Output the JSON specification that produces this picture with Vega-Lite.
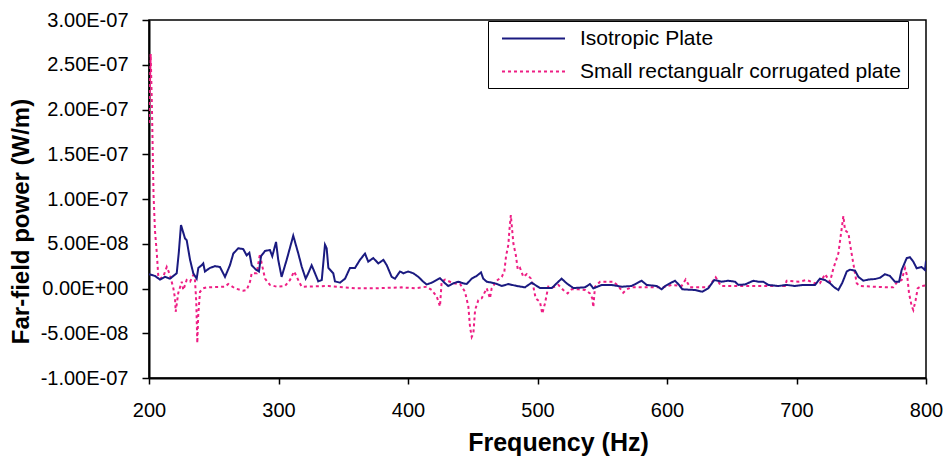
{
  "$schema": "https://vega.github.io/schema/vega-lite/v6.json",
  "autosize": {"type": "none"},
  "padding": {"left": 149, "top": 20, "right": 21, "bottom": 78},
  "width": 777,
  "height": 358,
  "background": "white",
  "config": {
    "font": "Liberation Sans",
    "view": {"stroke": "#000", "strokeWidth": 1.5},
    "axis": {"grid": false, "domainColor": "#000", "domainWidth": 2, "tickColor": "#000", "tickWidth": 1.5, "labelColor": "#000", "titleColor": "#000", "labelFont": "Liberation Sans", "titleFont": "Liberation Sans"}
  },
  "datasets": {
    "iso": [
      {"freq":200,"power":1.6e-8},{"freq":204.6,"power":1.4e-8},{"freq":208.5,"power":1.0e-8},{"freq":212.4,"power":1.3e-8},{"freq":216.2,"power":1.1e-8},{"freq":221.4,"power":1.7e-8},{"freq":223,"power":4.0e-8},{"freq":224.7,"power":7.1e-8},{"freq":227.8,"power":5.6e-8},{"freq":229.1,"power":5.4e-8},{"freq":231.7,"power":3.2e-8},{"freq":234.2,"power":1.7e-8},{"freq":236.8,"power":1.1e-8},{"freq":238.1,"power":2.3e-8},{"freq":240.7,"power":2.6e-8},{"freq":241.9,"power":2.8e-8},{"freq":243.2,"power":1.9e-8},{"freq":247.1,"power":2.3e-8},{"freq":251,"power":2.5e-8},{"freq":254.8,"power":2.4e-8},{"freq":258.7,"power":1.3e-8},{"freq":262.5,"power":2.6e-8},{"freq":265.1,"power":3.9e-8},{"freq":268.9,"power":4.5e-8},{"freq":272.8,"power":4.4e-8},{"freq":275.4,"power":3.7e-8},{"freq":277.5,"power":4.0e-8},{"freq":279.3,"power":2.6e-8},{"freq":282.6,"power":2.1e-8},{"freq":284.9,"power":1.9e-8},{"freq":286.5,"power":3.6e-8},{"freq":289.6,"power":4.2e-8},{"freq":293.4,"power":4.3e-8},{"freq":295.2,"power":3.6e-8},{"freq":298.1,"power":5.2e-8},{"freq":299.8,"power":3.2e-8},{"freq":302.4,"power":1.3e-8},{"freq":306.3,"power":3.2e-8},{"freq":311.4,"power":5.9e-8},{"freq":315.3,"power":3.9e-8},{"freq":318,"power":2.4e-8},{"freq":321,"power":1.1e-8},{"freq":323,"power":1.7e-8},{"freq":325.6,"power":2.6e-8},{"freq":328.2,"power":1.7e-8},{"freq":330.7,"power":0.8e-8},{"freq":333.4,"power":0.95e-8},{"freq":335.9,"power":4.9e-8},{"freq":337.2,"power":4.5e-8},{"freq":338.5,"power":2.3e-8},{"freq":342.3,"power":1.7e-8},{"freq":343.6,"power":0.8e-8},{"freq":347.5,"power":0.65e-8},{"freq":351.4,"power":1.1e-8},{"freq":355.2,"power":2.3e-8},{"freq":359.1,"power":2.3e-8},{"freq":362.9,"power":3.2e-8},{"freq":366.8,"power":3.9e-8},{"freq":369.3,"power":3.0e-8},{"freq":373.2,"power":3.4e-8},{"freq":377.1,"power":2.8e-8},{"freq":381,"power":3.2e-8},{"freq":383.6,"power":2.6e-8},{"freq":387.4,"power":1.3e-8},{"freq":390,"power":1.1e-8},{"freq":393.8,"power":1.9e-8},{"freq":396.4,"power":1.7e-8},{"freq":400.2,"power":1.9e-8},{"freq":404.1,"power":1.7e-8},{"freq":408,"power":1.3e-8},{"freq":411.8,"power":0.76e-8},{"freq":414.4,"power":0.45e-8},{"freq":418.3,"power":0.65e-8},{"freq":424.7,"power":1.15e-8},{"freq":428.6,"power":0.58e-8},{"freq":431.1,"power":0.28e-8},{"freq":435,"power":0.58e-8},{"freq":438.9,"power":0.76e-8},{"freq":442.7,"power":0.58e-8},{"freq":445.3,"power":0.5e-8},{"freq":449.2,"power":1.1e-8},{"freq":453,"power":1.4e-8},{"freq":456.4,"power":1.8e-8},{"freq":458.1,"power":1.1e-8},{"freq":460.8,"power":0.76e-8},{"freq":467.2,"power":0.58e-8},{"freq":472.4,"power":0.28e-8},{"freq":477.5,"power":0.5e-8},{"freq":484,"power":0.28e-8},{"freq":490.3,"power":0.13e-8},{"freq":495.5,"power":0.65e-8},{"freq":501.9,"power":0.05e-8},{"freq":511,"power":0.05e-8},{"freq":518.6,"power":1.1e-8},{"freq":522.5,"power":0.58e-8},{"freq":527.7,"power":0.05e-8},{"freq":536.7,"power":0.13e-8},{"freq":540.5,"power":0.5e-8},{"freq":543.1,"power":0.02e-8},{"freq":549.6,"power":0.4e-8},{"freq":557.3,"power":0.4e-8},{"freq":565,"power":0.2e-8},{"freq":572.7,"power":0.28e-8},{"freq":576.6,"power":0.58e-8},{"freq":580.4,"power":0.87e-8},{"freq":584.3,"power":0.4e-8},{"freq":592,"power":0.28e-8},{"freq":595.9,"power":-0.09e-8},{"freq":598.5,"power":0.28e-8},{"freq":602.3,"power":0.58e-8},{"freq":606.2,"power":0.87e-8},{"freq":609.3,"power":0.4e-8},{"freq":611.8,"power":-0.09e-8},{"freq":621.6,"power":-0.17e-8},{"freq":627.3,"power":-0.36e-8},{"freq":631.9,"power":0.02e-8},{"freq":636.5,"power":0.95e-8},{"freq":642.2,"power":0.76e-8},{"freq":647.4,"power":0.87e-8},{"freq":652.5,"power":0.76e-8},{"freq":655.1,"power":0.4e-8},{"freq":660.2,"power":0.45e-8},{"freq":666.7,"power":0.87e-8},{"freq":670.5,"power":0.76e-8},{"freq":674.4,"power":0.76e-8},{"freq":678.2,"power":0.4e-8},{"freq":686,"power":0.28e-8},{"freq":692.4,"power":0.4e-8},{"freq":698.8,"power":0.28e-8},{"freq":705.2,"power":0.4e-8},{"freq":714.3,"power":0.4e-8},{"freq":718.1,"power":1.1e-8},{"freq":722,"power":0.95e-8},{"freq":725.9,"power":0.58e-8},{"freq":729.2,"power":0.13e-8},{"freq":732.3,"power":-0.17e-8},{"freq":735.4,"power":0.65e-8},{"freq":738.8,"power":1.9e-8},{"freq":741.3,"power":2.1e-8},{"freq":745.2,"power":2.0e-8},{"freq":747.8,"power":1.3e-8},{"freq":751.6,"power":0.87e-8},{"freq":755.5,"power":1.0e-8},{"freq":760.7,"power":1.06e-8},{"freq":764.5,"power":1.2e-8},{"freq":768.3,"power":1.6e-8},{"freq":772.2,"power":1.4e-8},{"freq":776,"power":0.76e-8},{"freq":779.2,"power":0.76e-8},{"freq":781.2,"power":2.07e-8},{"freq":785.1,"power":3.4e-8},{"freq":787.6,"power":3.5e-8},{"freq":790.2,"power":3.0e-8},{"freq":792.8,"power":2.26e-8},{"freq":796.6,"power":2.4e-8},{"freq":799.2,"power":2.07e-8},{"freq":800,"power":3.1e-8}
    ],
    "cor": [
      {"freq":200,"power":18.5e-8},{"freq":201.3,"power":26.2e-8},{"freq":202.3,"power":20e-8},{"freq":203.5,"power":10.5e-8},{"freq":204.6,"power":6.5e-8},{"freq":206,"power":4e-8},{"freq":207.2,"power":1.3e-8},{"freq":208.5,"power":1.1e-8},{"freq":211,"power":1.3e-8},{"freq":213.7,"power":2.4e-8},{"freq":216.2,"power":1.5e-8},{"freq":218.8,"power":0.02e-8},{"freq":220.1,"power":-1.1e-8},{"freq":220.6,"power":-2.6e-8},{"freq":222.6,"power":-0.5e-8},{"freq":225.3,"power":0.76e-8},{"freq":226.5,"power":-0.17e-8},{"freq":229.1,"power":0.95e-8},{"freq":231.7,"power":0.76e-8},{"freq":234.2,"power":1.5e-8},{"freq":235.5,"power":0.95e-8},{"freq":236.5,"power":-1.5e-8},{"freq":237.3,"power":-6.1e-8},{"freq":238,"power":-3e-8},{"freq":239.4,"power":-0.36e-8},{"freq":241.9,"power":0.02e-8},{"freq":244.6,"power":0.13e-8},{"freq":258.7,"power":0.2e-8},{"freq":261.2,"power":0.5e-8},{"freq":266.4,"power":0.02e-8},{"freq":272.8,"power":-0.25e-8},{"freq":275.4,"power":-0.17e-8},{"freq":278,"power":0.76e-8},{"freq":279.3,"power":1.7e-8},{"freq":283.2,"power":1.7e-8},{"freq":285.7,"power":3.9e-8},{"freq":287,"power":2.8e-8},{"freq":289.6,"power":1.1e-8},{"freq":293.4,"power":0.4e-8},{"freq":298.6,"power":0.2e-8},{"freq":305,"power":0.28e-8},{"freq":308.9,"power":0.95e-8},{"freq":312,"power":1.9e-8},{"freq":314.1,"power":1.3e-8},{"freq":315.8,"power":0.76e-8},{"freq":317.9,"power":0.2e-8},{"freq":338.5,"power":0.28e-8},{"freq":359.1,"power":0.02e-8},{"freq":374.5,"power":0.02e-8},{"freq":395.1,"power":0.13e-8},{"freq":405.4,"power":0.02e-8},{"freq":414.4,"power":0.2e-8},{"freq":418.3,"power":-0.17e-8},{"freq":422.2,"power":-0.9e-8},{"freq":424.7,"power":-2.0e-8},{"freq":426,"power":0.76e-8},{"freq":428.6,"power":1.0e-8},{"freq":435,"power":0.58e-8},{"freq":440.2,"power":0.5e-8},{"freq":444,"power":-0.36e-8},{"freq":446.6,"power":-2.0e-8},{"freq":447.9,"power":-4.3e-8},{"freq":449.2,"power":-5.4e-8},{"freq":450.5,"power":-5.0e-8},{"freq":451.8,"power":-2.4e-8},{"freq":454.3,"power":-1.3e-8},{"freq":456.9,"power":-1.1e-8},{"freq":460.8,"power":0.02e-8},{"freq":463.3,"power":-1.1e-8},{"freq":464.6,"power":0.02e-8},{"freq":468.5,"power":0.87e-8},{"freq":472.4,"power":1.3e-8},{"freq":474.4,"power":1.9e-8},{"freq":475.7,"power":3.6e-8},{"freq":477.5,"power":4.9e-8},{"freq":478.3,"power":6.5e-8},{"freq":479.4,"power":8.2e-8},{"freq":480.2,"power":6.9e-8},{"freq":481.4,"power":5.0e-8},{"freq":483.3,"power":3.7e-8},{"freq":484.8,"power":2.1e-8},{"freq":486.5,"power":2.3e-8},{"freq":489.1,"power":1.3e-8},{"freq":491.7,"power":1.6e-8},{"freq":495,"power":1.1e-8},{"freq":496.8,"power":0.2e-8},{"freq":498.6,"power":-1.1e-8},{"freq":501.9,"power":-1.5e-8},{"freq":503.7,"power":-2.8e-8},{"freq":505.8,"power":-1.65e-8},{"freq":508.3,"power":0.2e-8},{"freq":512.2,"power":0.13e-8},{"freq":516.1,"power":0.4e-8},{"freq":519.9,"power":-0.17e-8},{"freq":523.3,"power":-0.54e-8},{"freq":526.4,"power":-0.09e-8},{"freq":531.5,"power":-0.09e-8},{"freq":536.7,"power":-0.17e-8},{"freq":540.5,"power":-0.54e-8},{"freq":542.3,"power":-1.1e-8},{"freq":543.1,"power":-2.1e-8},{"freq":544.4,"power":0.2e-8},{"freq":548.3,"power":0.76e-8},{"freq":553.4,"power":0.76e-8},{"freq":558.5,"power":0.76e-8},{"freq":562.4,"power":0.28e-8},{"freq":566.2,"power":-0.47e-8},{"freq":568.9,"power":-0.09e-8},{"freq":572.7,"power":0.13e-8},{"freq":590.7,"power":0.13e-8},{"freq":597.1,"power":0.13e-8},{"freq":603.6,"power":0.4e-8},{"freq":611.3,"power":0.28e-8},{"freq":614.4,"power":1.0e-8},{"freq":617.8,"power":0.13e-8},{"freq":631.9,"power":0.13e-8},{"freq":637.6,"power":1.25e-8},{"freq":641.7,"power":0.28e-8},{"freq":664.1,"power":0.28e-8},{"freq":691.1,"power":0.28e-8},{"freq":692.4,"power":0.87e-8},{"freq":701.4,"power":0.76e-8},{"freq":707.9,"power":0.95e-8},{"freq":714.3,"power":0.58e-8},{"freq":718.1,"power":0.58e-8},{"freq":722,"power":1.6e-8},{"freq":725.9,"power":0.76e-8},{"freq":728.5,"power":2.26e-8},{"freq":732.3,"power":3.9e-8},{"freq":736.2,"power":8.1e-8},{"freq":737.5,"power":6.5e-8},{"freq":740.1,"power":6.2e-8},{"freq":741.4,"power":4.9e-8},{"freq":743.4,"power":3.2e-8},{"freq":746.5,"power":0.58e-8},{"freq":749,"power":0.28e-8},{"freq":769.6,"power":0.13e-8},{"freq":774.7,"power":0.13e-8},{"freq":777.3,"power":0.65e-8},{"freq":781.2,"power":0.95e-8},{"freq":783.8,"power":2.26e-8},{"freq":785.6,"power":1.3e-8},{"freq":786.9,"power":-0.54e-8},{"freq":789,"power":-2.0e-8},{"freq":790.2,"power":-2.4e-8},{"freq":792,"power":-1.3e-8},{"freq":793.6,"power":0.02e-8},{"freq":796.6,"power":0.28e-8},{"freq":800,"power":0.35e-8}
    ]
  },
  "encoding": {
    "x": {"field": "freq", "type": "quantitative", "scale": {"domain": [200, 800], "nice": false, "zero": false},
      "axis": {"values": [200, 300, 400, 500, 600, 700, 800], "format": "d", "labelFlush": false, "labelFontSize": 20, "tickSize": 6, "labelPadding": 16, "title": "Frequency (Hz)", "titleFontSize": 25, "titleFontWeight": "bold", "titleX": 409, "titleY": 72, "titleBaseline": "alphabetic"}},
    "y": {"field": "power", "type": "quantitative", "scale": {"domain": [-1e-7, 3e-7], "nice": false, "zero": false},
      "axis": {"values": [-1e-7, -5e-8, 0, 5e-8, 1e-7, 1.5e-7, 2e-7, 2.5e-7, 3e-7], "labelExpr": "replace(replace(replace(format(datum.value, '.2e'), 'e-', 'E-0'), 'e+', 'E+0'), '\u2212', '-')", "labelFlush": false, "labelFontSize": 20, "tickSize": 7, "labelPadding": 14, "title": "Far-field power (W/m)", "titleFontSize": 24, "titleFontWeight": "bold", "titleX": -121, "titleY": 201, "titleBaseline": "alphabetic"}},
    "color": {"datum": "Isotropic Plate", "type": "nominal",
      "scale": {"domain": ["Isotropic Plate", "Small rectangualr corrugated plate"], "range": ["#1a1a80", "#ee1e84"]},
      "legend": {"title": null, "orient": "none", "legendX": 339, "legendY": 1, "symbolType": "M-3,0H3", "symbolSize": 441, "symbolStrokeWidth": 2, "symbolOpacity": 1, "symbolFillColor": "transparent", "labelFontSize": 21, "labelColor": "#000", "labelFont": "Liberation Sans", "labelOffset": 35, "padding": 6, "symbolOffset": 28, "rowPadding": 11, "strokeColor": "#000", "fillColor": "#fff", "labelLimit": 500,
        "encode": {"legend": {"update": {"width": {"value": 426}}}}}},
    "strokeDash": {"datum": "Isotropic Plate", "type": "nominal",
      "scale": {"domain": ["Isotropic Plate", "Small rectangualr corrugated plate"], "range": [[1, 0], [3, 3]]}}
  },
  "layer": [
    {
      "data": {"name": "cor"},
      "mark": {"type": "line", "strokeWidth": 2, "clip": true},
      "encoding": {
        "color": {"datum": "Small rectangualr corrugated plate", "type": "nominal"},
        "strokeDash": {"datum": "Small rectangualr corrugated plate", "type": "nominal"}
      }
    },
    {
      "data": {"name": "iso"},
      "mark": {"type": "line", "strokeWidth": 2, "clip": true}
    }
  ]
}
